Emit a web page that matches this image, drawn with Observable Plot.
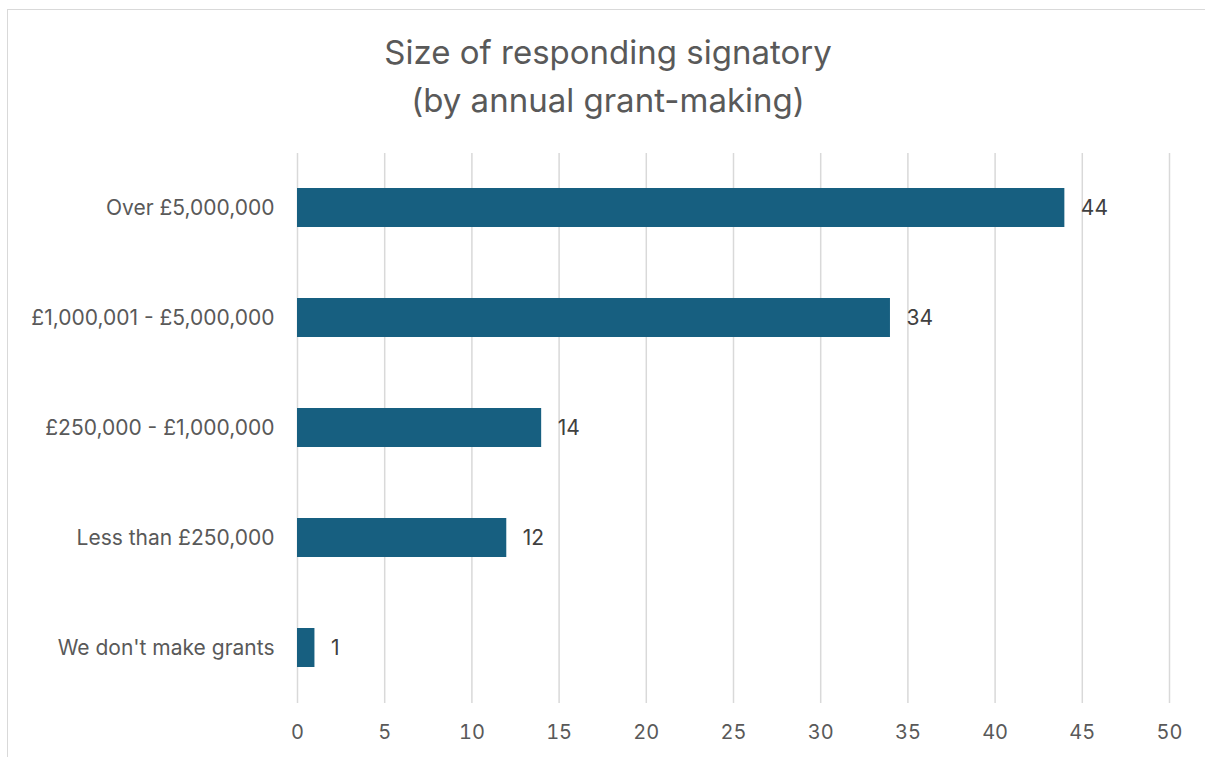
<!DOCTYPE html>
<html>
<head>
<meta charset="utf-8">
<script src="https://cdn.jsdelivr.net/npm/d3@7"></script>
<script src="https://cdn.jsdelivr.net/npm/@observablehq/plot@0.6"></script>
<style>
  html, body { margin: 0; padding: 0; background: #fff; width: 1205px; height: 757px; overflow: hidden; }
  #frame { position: absolute; left: 7px; top: 9px; width: 1210px; height: 760px; border: 1.5px solid #d9d9d9; box-sizing: border-box; }
  #title { position: absolute; left: 0; top: 28px; width: 1216px; text-align: center; font-family: Inter, sans-serif; font-size: 33px; line-height: 48px; color: #595959; }
  #chart { position: absolute; left: 0; top: 0; }
</style>
</head>
<body>
<div id="frame"></div>
<div id="title">Size of responding signatory<br>(by annual grant-making)</div>
<div id="chart"></div>
<script>
const categories = ["Over £5,000,000", "£1,000,001 - £5,000,000", "£250,000 - £1,000,000", "Less than £250,000", "We don't make grants"];
const counts = [44, 34, 14, 12, 1];
const xTicks = [0, 5, 10, 15, 20, 25, 30, 35, 40, 45, 50];

const data = categories.map((c, i) => ({category: c, count: counts[i]}));

const chart = Plot.plot({
  width: 1205,
  height: 757,
  marginTop: 153,
  marginBottom: 54,
  marginLeft: 297,
  marginRight: 36,
  style: {fontFamily: "Inter, sans-serif", fontSize: "20px", color: "#595959", background: "transparent", overflow: "visible"},
  x: {domain: [0, 50], ticks: xTicks, label: null},
  y: {domain: categories, paddingInner: 0.645, paddingOuter: 0.3225, label: null},
  marks: [
    Plot.gridX(xTicks, {stroke: "#d9d9d9", strokeOpacity: 1, strokeWidth: 1.5}),
    Plot.barX(data, {x: "count", y: "category", fill: "#175f80"}),
    Plot.text(data, {x: "count", y: "category", text: d => String(d.count), textAnchor: "start", dx: 16, fill: "#404040", fontSize: 21}),
    Plot.axisX(xTicks, {tickSize: 0, tickPadding: 21, fontSize: 20, fill: "#595959", label: null}),
    Plot.axisY({tickSize: 0, tickPadding: 23, fontSize: 21, fill: "#595959", label: null})
  ]
});
document.getElementById("chart").appendChild(chart);
</script>
</body>
</html>
